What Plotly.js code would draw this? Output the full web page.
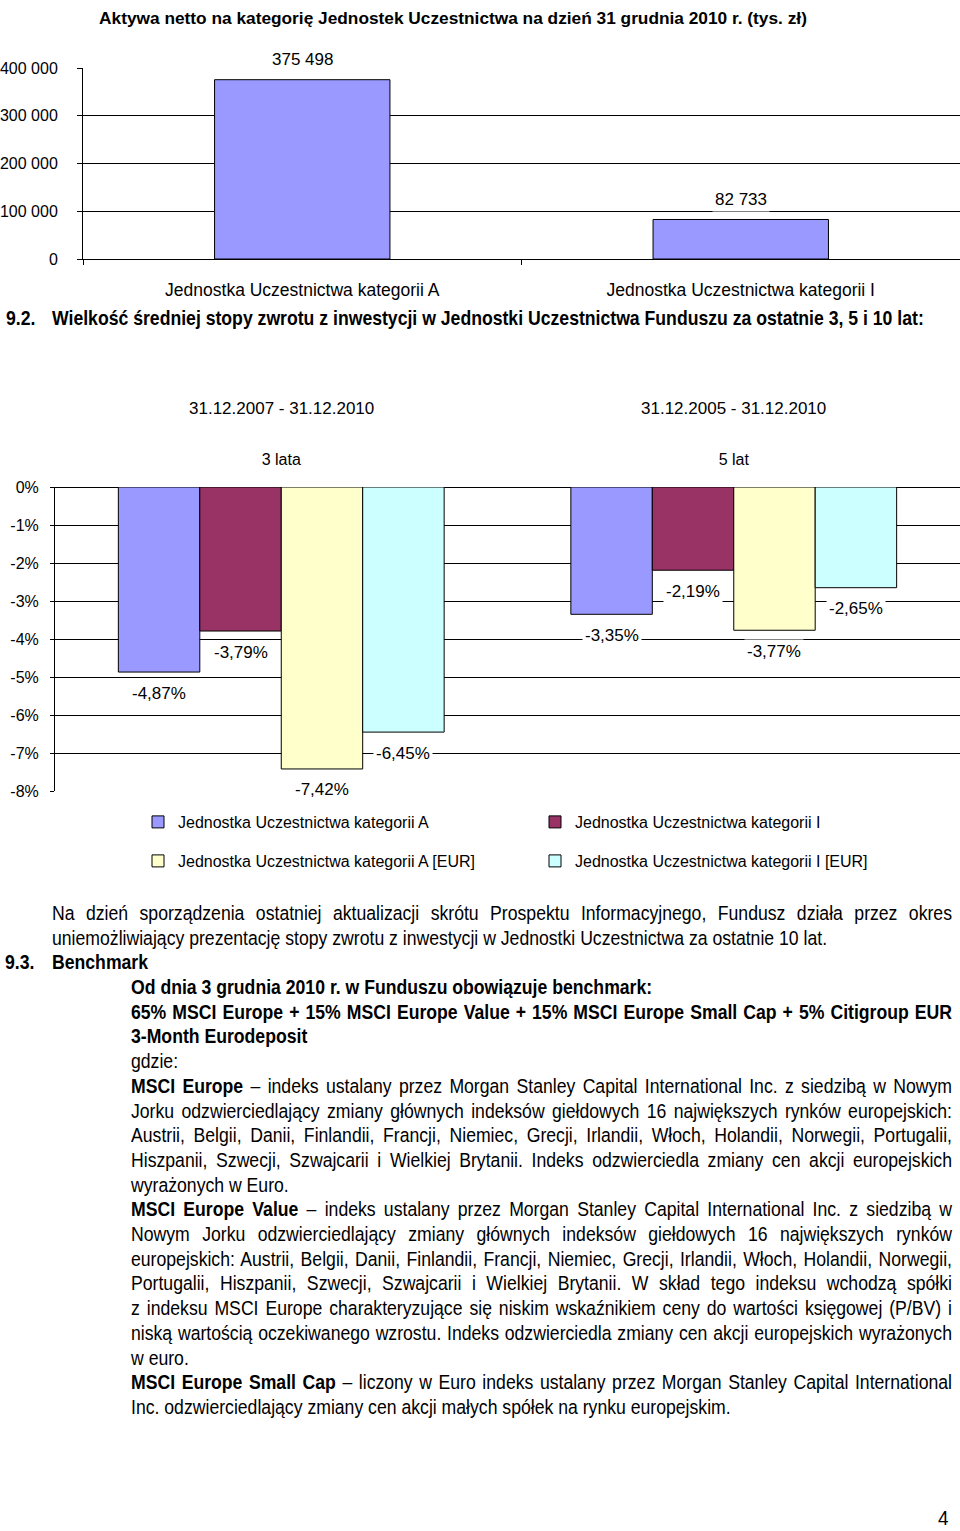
<!DOCTYPE html>
<html>
<head>
<meta charset="utf-8">
<script src="https://cdn.plot.ly/plotly-3.0.1.min.js"></script>
<style>
  html, body { margin: 0; padding: 0; background: #fff; }
  #page { position: relative; width: 960px; height: 1531px; overflow: hidden; background: #fff; }
  #chart { position: absolute; left: 0; top: 0; width: 960px; height: 880px; }
  .t { position: absolute; white-space: nowrap; color: #000;
       font-family: "Liberation Sans", Arial, sans-serif;
       font-size: 20.5px; line-height: 24.7px; height: 24.7px;
       transform-origin: 0 50%; transform: scaleX(0.86); }
  .j { text-align: justify; text-align-last: justify; }
  b { font-weight: bold; }
</style>
</head>
<body>
<div id="page">
  <div id="chart"></div>
  <div id="texts"></div>
</div>

<script>
// ---------- Chart 1 data ----------
const assetCategories = ['Jednostka Uczestnictwa kategorii A', 'Jednostka Uczestnictwa kategorii I'];
const assetValues = [375498, 82733];
const assetTickVals = [0, 100000, 200000, 300000, 400000];
const assetTickText = ['0', '100 000', '200 000', '300 000', '400 000'];
const assetTitle = 'Aktywa netto na kategorię Jednostek Uczestnictwa na dzień 31 grudnia 2010 r. (tys. zł)';

// ---------- Chart 2 data ----------
const periodCategories = ['3 lata', '5 lat'];
const periodRanges = ['31.12.2007 - 31.12.2010', '31.12.2005 - 31.12.2010'];
const seriesNames = [
  'Jednostka Uczestnictwa kategorii A',
  'Jednostka Uczestnictwa kategorii I',
  'Jednostka Uczestnictwa kategorii A [EUR]',
  'Jednostka Uczestnictwa kategorii I [EUR]'
];
const seriesA = [-4.87, -3.35];
const seriesI = [-3.79, -2.19];
const seriesAEur = [-7.42, -3.77];
const seriesIEur = [-6.45, -2.65];
const returnTickVals = [0, -1, -2, -3, -4, -5, -6, -7, -8];
const returnTickText = ['0%', '-1%', '-2%', '-3%', '-4%', '-5%', '-6%', '-7%', '-8%'];

// ---------- Page text ----------
const SCALE = 0.86;
// [html, left px, top px, justified width px or 0]
const textLines = [
  ['<b>9.2.</b>', 6, 306, 0],
  ['<b>Wielkość średniej stopy zwrotu z inwestycji w Jednostki Uczestnictwa Funduszu za ostatnie 3, 5 i 10 lat:</b>', 52, 306, 0],
  ['Na dzień sporządzenia ostatniej aktualizacji skrótu Prospektu Informacyjnego, Fundusz działa przez okres', 52, 901, 900],
  ['uniemożliwiający prezentację stopy zwrotu z inwestycji w Jednostki Uczestnictwa za ostatnie 10 lat.', 52, 925.7, 0],
  ['<b>9.3.</b>', 5, 950, 0],
  ['<b>Benchmark</b>', 52, 950, 0]
];
const benchLines = [
  ['<b>Od dnia 3 grudnia 2010 r. w Funduszu obowiązuje benchmark:</b>', false],
  ['<b>65% MSCI Europe + 15% MSCI Europe Value + 15% MSCI Europe Small Cap + 5% Citigroup EUR</b>', true],
  ['<b>3-Month Eurodeposit</b>', false],
  ['gdzie:', false],
  ['<b>MSCI Europe</b> – indeks ustalany przez Morgan Stanley Capital International Inc. z siedzibą w Nowym', true],
  ['Jorku odzwierciedlający zmiany głównych indeksów giełdowych 16 największych rynków europejskich:', true],
  ['Austrii, Belgii, Danii, Finlandii, Francji, Niemiec, Grecji, Irlandii, Włoch, Holandii, Norwegii, Portugalii,', true],
  ['Hiszpanii, Szwecji, Szwajcarii i Wielkiej Brytanii. Indeks odzwierciedla zmiany cen akcji europejskich', true],
  ['wyrażonych w Euro.', false],
  ['<b>MSCI Europe Value</b> – indeks ustalany przez Morgan Stanley Capital International Inc. z siedzibą w', true],
  ['Nowym Jorku odzwierciedlający zmiany głównych indeksów giełdowych 16 największych rynków', true],
  ['europejskich: Austrii, Belgii, Danii, Finlandii, Francji, Niemiec, Grecji, Irlandii, Włoch, Holandii, Norwegii,', true],
  ['Portugalii, Hiszpanii, Szwecji, Szwajcarii i Wielkiej Brytanii. W skład tego indeksu wchodzą spółki', true],
  ['z indeksu MSCI Europe charakteryzujące się niskim wskaźnikiem ceny do wartości księgowej (P/BV) i', true],
  ['niską wartością oczekiwanego wzrostu. Indeks odzwierciedla zmiany cen akcji europejskich wyrażonych', true],
  ['w euro.', false],
  ['<b>MSCI Europe Small Cap</b> – liczony w Euro indeks ustalany przez Morgan Stanley Capital International', true],
  ['Inc. odzwierciedlający zmiany cen akcji małych spółek na rynku europejskim.', false]
];
benchLines.forEach(function (l, i) {
  textLines.push([l[0], 131, 975 + i * 24.7, l[1] ? 821 : 0]);
});

const textsDiv = document.getElementById('texts');
textLines.forEach(function (l) {
  const d = document.createElement('div');
  d.className = 't' + (l[3] ? ' j' : '');
  d.style.left = l[1] + 'px';
  d.style.top = l[2] + 'px';
  if (l[3]) d.style.width = (l[3] / SCALE) + 'px';
  d.innerHTML = l[0];
  textsDiv.appendChild(d);
});
// page number
(function () {
  const d = document.createElement('div');
  d.className = 't';
  d.style.left = '938px'; d.style.top = '1506px'; d.style.fontSize = '21px';
  d.style.transform = 'scaleX(0.9)';
  d.textContent = '4';
  textsDiv.appendChild(d);
})();

// ---------- Plot ----------
const FIG_W = 960, FIG_H = 880;
const py = function (px) { return 1 - px / FIG_H; };
const FONT = 'Liberation Sans, Arial, sans-serif';

const fmtThousands = function (v) { return String(v).replace(/\B(?=(\d{3})+(?!\d))/g, ' '); };
const fmtPct = function (v) { return v.toFixed(2).replace('.', ',') + '%'; };

const x1Domain = [83 / FIG_W, 1];
const y1Domain = [py(259), py(68)];
const x2Domain = [55 / FIG_W, 1];
const y2Domain = [py(791), py(487)];
const bargap2 = 0.28;
const barWidth1 = 0.4;

const colors = ['#9999FF', '#993366', '#FFFFCC', '#CCFFFF'];
const allSeries = [seriesA, seriesI, seriesAEur, seriesIEur];
const legendIds = ['legend', 'legend2', 'legend3', 'legend4'];

const traces = [{
  type: 'bar', x: assetCategories, y: assetValues, width: barWidth1,
  xaxis: 'x', yaxis: 'y', showlegend: false, hoverinfo: 'skip',
  marker: { color: '#9999FF', line: { color: '#000', width: 1 } }
}];

allSeries.forEach(function (s, i) {
  traces.push({
    type: 'bar', name: seriesNames[i], x: periodCategories, y: s,
    xaxis: 'x2', yaxis: 'y2', hoverinfo: 'skip',
    legend: legendIds[i],
    marker: { color: colors[i], line: { color: '#000', width: 1 } }
  });
});

const annotations = [];
assetValues.forEach(function (v, i) {
  annotations.push({
    xref: 'x', yref: 'y', x: assetCategories[i], y: v, yshift: 20,
    text: fmtThousands(v), showarrow: false, bgcolor: '#fff', borderpad: 2,
    font: { family: FONT, size: 17, color: '#000' }
  });
});

const plotW2 = FIG_W * (x2Domain[1] - x2Domain[0]);
const barPx2 = plotW2 / periodCategories.length * (1 - bargap2) / allSeries.length;
allSeries.forEach(function (s, i) {
  s.forEach(function (v, j) {
    annotations.push({
      xref: 'x2', yref: 'y2', x: periodCategories[j], y: v,
      xshift: (i - (allSeries.length - 1) / 2) * barPx2, yshift: -21,
      text: fmtPct(v), showarrow: false, bgcolor: '#fff', borderpad: 2,
      font: { family: FONT, size: 17, color: '#000' }
    });
  });
});

periodRanges.forEach(function (r, j) {
  annotations.push({
    xref: 'x2', yref: 'paper', x: periodCategories[j], y: py(408), yanchor: 'middle',
    text: r, showarrow: false,
    font: { family: FONT, size: 17, color: '#000' }
  });
});

function legendAt(xpx, ypx) {
  return {
    orientation: 'h', x: xpx / FIG_W, xanchor: 'left', y: py(ypx), yanchor: 'middle',
    itemwidth: 30, bgcolor: 'rgba(0,0,0,0)',
    font: { family: FONT, size: 16, color: '#000' },
    itemclick: false, itemdoubleclick: false
  };
}

const layout = {
  width: FIG_W, height: FIG_H,
  margin: { l: 0, r: 0, t: 0, b: 0 },
  paper_bgcolor: '#fff', plot_bgcolor: 'rgba(0,0,0,0)',
  font: { family: FONT, size: 16, color: '#000' },
  title: {
    text: '<b>' + assetTitle + '</b>',
    x: 453 / FIG_W, xanchor: 'center', xref: 'paper',
    y: py(18), yanchor: 'middle', yref: 'paper',
    font: { family: FONT, size: 17.3, color: '#000' }
  },
  barmode: 'group', bargap: bargap2, bargroupgap: 0,
  xaxis: {
    domain: x1Domain, anchor: 'y', type: 'category',
    showline: true, linecolor: '#000', linewidth: 1,
    ticks: 'outside', tickson: 'boundaries', ticklen: 5, tickcolor: '#000',
    ticklabelstandoff: 15, showgrid: false, zeroline: false,
    tickfont: { family: FONT, size: 17.5, color: '#000' }, fixedrange: true
  },
  yaxis: {
    domain: y1Domain, anchor: 'x', range: [0, 400000],
    tickvals: assetTickVals, ticktext: assetTickText,
    showline: true, linecolor: '#000', linewidth: 1,
    ticks: 'outside', ticklen: 5, tickcolor: '#000', ticklabelstandoff: 16,
    showgrid: true, gridcolor: '#000', gridwidth: 1, zeroline: false,
    tickfont: { family: FONT, size: 16, color: '#000' }, fixedrange: true
  },
  xaxis2: {
    domain: x2Domain, anchor: 'y2', type: 'category', side: 'top',
    showline: false, ticks: '', ticklabelstandoff: 18,
    showgrid: false, zeroline: false,
    tickfont: { family: FONT, size: 16, color: '#000' }, fixedrange: true
  },
  yaxis2: {
    domain: y2Domain, anchor: 'x2', range: [-8, 0],
    tickvals: returnTickVals, ticktext: returnTickText,
    showline: true, linecolor: '#000', linewidth: 1,
    ticks: 'outside', ticklen: 4, tickcolor: '#000', ticklabelstandoff: 8,
    showgrid: true, gridcolor: '#000', gridwidth: 1,
    zeroline: true, zerolinecolor: '#000', zerolinewidth: 1,
    tickfont: { family: FONT, size: 16, color: '#000' }, fixedrange: true
  },
  legend: legendAt(138, 822),
  legend2: legendAt(535, 822),
  legend3: legendAt(138, 861),
  legend4: legendAt(535, 861),
  annotations: annotations
};

Plotly.newPlot('chart', traces, layout, { displayModeBar: false, staticPlot: true });
</script>
</body>
</html>
